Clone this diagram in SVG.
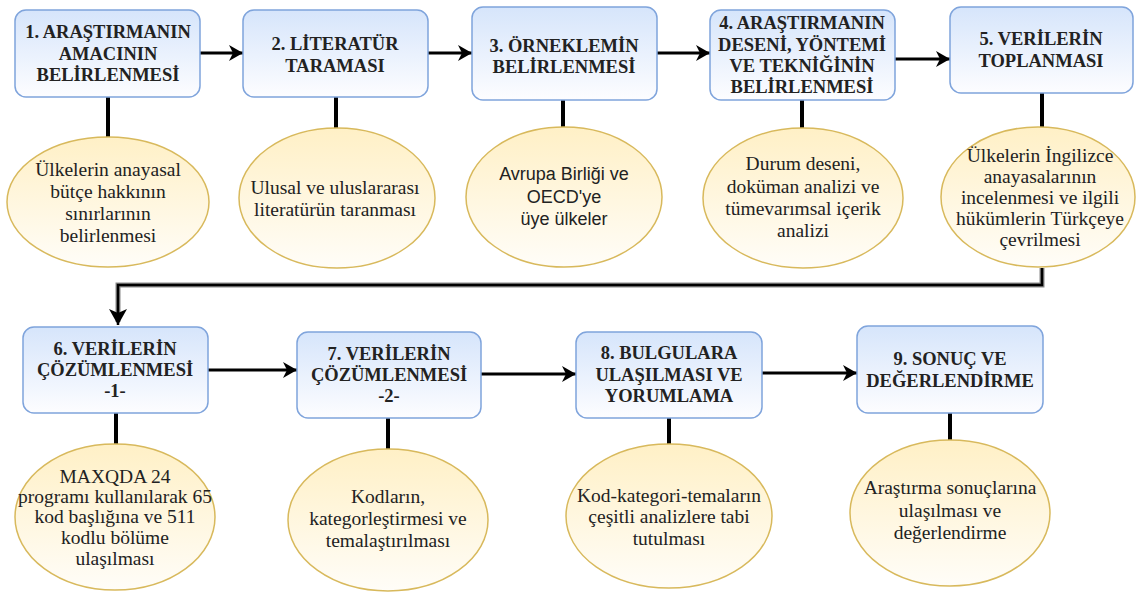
<svg xmlns="http://www.w3.org/2000/svg" width="1136" height="592" viewBox="0 0 1136 592">
<defs>
<linearGradient id="gBox" x1="0" y1="0" x2="0" y2="1"><stop offset="0" stop-color="#d6e5fb"/><stop offset="1" stop-color="#fdfdff"/></linearGradient>
<linearGradient id="gEll" x1="0" y1="0" x2="0" y2="1"><stop offset="0" stop-color="#fff0c6"/><stop offset="1" stop-color="#fffdf8"/></linearGradient>
<marker id="arr" markerUnits="userSpaceOnUse" markerWidth="16" markerHeight="18" refX="14" refY="8" orient="auto"><path d="M0,0 L14,8 L0,16 L4,8 Z" fill="#000"/></marker>
<marker id="arrBig" markerUnits="userSpaceOnUse" markerWidth="18" markerHeight="20" refX="16" refY="9" orient="auto"><path d="M0,0 L16,9 L0,18 L4,9 Z" fill="#000"/></marker>
<style>
.box{fill:url(#gBox);stroke:#7fa4dc;stroke-width:1.5}
.ell{fill:url(#gEll);stroke:#d8b95c;stroke-width:1.5}
.bt{font-weight:bold;font-size:18.5px;fill:#222;text-anchor:middle}
.et{font-size:19.5px;fill:#222;text-anchor:middle}
.st{font-size:18px;fill:#222;text-anchor:middle}
.ln{stroke:#000;stroke-width:3;fill:none}
.stem{stroke:#000;stroke-width:4;fill:none}
</style>
</defs>
<rect width="1136" height="592" fill="#fff"/>
<g id="connectors">
<line class="ln" x1="200" y1="53" x2="243" y2="53" marker-end="url(#arr)"/>
<line class="ln" x1="428" y1="53" x2="472" y2="53" marker-end="url(#arr)"/>
<line class="ln" x1="657" y1="53" x2="710" y2="53" marker-end="url(#arr)"/>
<line class="ln" x1="895" y1="59" x2="950" y2="59" marker-end="url(#arr)"/>
<line class="ln" x1="208" y1="370" x2="297" y2="370" marker-end="url(#arr)"/>
<line class="ln" x1="481" y1="374" x2="576" y2="374" marker-end="url(#arr)"/>
<line class="ln" x1="762" y1="373" x2="857" y2="373" marker-end="url(#arr)"/>
<path d="M1042,268 V285 H118 V322" fill="none" stroke="#8a8a8a" stroke-width="5"/>
<path d="M1042,268 V285 H118 V325" fill="none" stroke="#000" stroke-width="2.5" marker-end="url(#arrBig)"/>
<line class="stem" x1="108" y1="97" x2="108" y2="137"/>
<line class="stem" x1="336" y1="97" x2="336" y2="128"/>
<line class="stem" x1="563" y1="100" x2="563" y2="127"/>
<line class="stem" x1="802" y1="100" x2="802" y2="128"/>
<line class="stem" x1="1042" y1="93" x2="1042" y2="127"/>
<line class="stem" x1="116" y1="413" x2="116" y2="444"/>
<line class="stem" x1="388" y1="418" x2="388" y2="449"/>
<line class="stem" x1="669" y1="418" x2="669" y2="444"/>
<line class="stem" x1="950" y1="413" x2="950" y2="440"/>
</g>
<g id="n1"><rect class="box" x="15" y="10" width="185" height="87" rx="11"/>
<text class="bt" font-family="Liberation Serif"><tspan x="108" y="38">1. ARAŞTIRMANIN</tspan><tspan x="108" y="60">AMACININ</tspan><tspan x="108" y="81">BELİRLENMESİ</tspan></text></g>
<g id="n2"><rect class="box" x="243" y="10" width="185" height="87" rx="11"/>
<text class="bt" font-family="Liberation Serif"><tspan x="335" y="50">2. LİTERATÜR</tspan><tspan x="335" y="72">TARAMASI</tspan></text></g>
<g id="n3"><rect class="box" x="472" y="7" width="185" height="93" rx="11"/>
<text class="bt" font-family="Liberation Serif"><tspan x="564" y="52">3. ÖRNEKLEMİN</tspan><tspan x="564" y="73">BELİRLENMESİ</tspan></text></g>
<g id="n4"><rect class="box" x="710" y="10" width="185" height="90" rx="11"/>
<text class="bt" font-family="Liberation Serif"><tspan x="802" y="29">4. ARAŞTIRMANIN</tspan><tspan x="802" y="51">DESENİ, YÖNTEMİ</tspan><tspan x="802" y="72">VE TEKNİĞİNİN</tspan><tspan x="802" y="93">BELİRLENMESİ</tspan></text></g>
<g id="n5"><rect class="box" x="950" y="7" width="183" height="86" rx="11"/>
<text class="bt" font-family="Liberation Serif"><tspan x="1041" y="45">5. VERİLERİN</tspan><tspan x="1041" y="67">TOPLANMASI</tspan></text></g>
<g id="n6"><rect class="box" x="23" y="327" width="185" height="86" rx="11"/>
<text class="bt" font-family="Liberation Serif"><tspan x="115" y="355">6. VERİLERİN</tspan><tspan x="115" y="376">ÇÖZÜMLENMESİ</tspan><tspan x="115" y="397">-1-</tspan></text></g>
<g id="n7"><rect class="box" x="297" y="332" width="184" height="86" rx="11"/>
<text class="bt" font-family="Liberation Serif"><tspan x="389" y="360">7. VERİLERİN</tspan><tspan x="389" y="381">ÇÖZÜMLENMESİ</tspan><tspan x="389" y="402">-2-</tspan></text></g>
<g id="n8"><rect class="box" x="576" y="332" width="186" height="86" rx="11"/>
<text class="bt" font-family="Liberation Serif"><tspan x="669" y="359">8. BULGULARA</tspan><tspan x="669" y="381">ULAŞILMASI VE</tspan><tspan x="669" y="402">YORUMLAMA</tspan></text></g>
<g id="n9"><rect class="box" x="857" y="326" width="186" height="87" rx="11"/>
<text class="bt" font-family="Liberation Serif"><tspan x="950" y="365">9. SONUÇ VE</tspan><tspan x="950" y="387">DEĞERLENDİRME</tspan></text></g>
<g id="e1"><ellipse class="ell" cx="108" cy="202" rx="101" ry="65"/>
<text class="et" font-family="Liberation Serif"><tspan x="108" y="176">Ülkelerin anayasal</tspan><tspan x="108" y="198">bütçe hakkının</tspan><tspan x="108" y="220">sınırlarının</tspan><tspan x="108" y="242">belirlenmesi</tspan></text></g>
<g id="e2"><ellipse class="ell" cx="337" cy="198" rx="98" ry="70"/>
<text class="et" font-family="Liberation Serif"><tspan x="335" y="194">Ulusal ve uluslararası</tspan><tspan x="335" y="216">literatürün taranması</tspan></text></g>
<g id="e3"><ellipse class="ell" cx="564" cy="197" rx="98" ry="70"/>
<text class="st" font-family="Liberation Sans"><tspan x="564" y="180">Avrupa Birliği ve</tspan><tspan x="564" y="203">OECD'ye</tspan><tspan x="564" y="225">üye ülkeler</tspan></text></g>
<g id="e4"><ellipse class="ell" cx="803" cy="198" rx="100" ry="70"/>
<text class="et" font-family="Liberation Serif"><tspan x="803" y="170">Durum deseni,</tspan><tspan x="803" y="193">doküman analizi ve</tspan><tspan x="803" y="215">tümevarımsal içerik</tspan><tspan x="803" y="237">analizi</tspan></text></g>
<g id="e5"><ellipse class="ell" cx="1038" cy="197" rx="97" ry="70"/>
<text class="et" font-family="Liberation Serif"><tspan x="1040" y="162">Ülkelerin İngilizce</tspan><tspan x="1040" y="183">anayasalarının</tspan><tspan x="1040" y="204">incelenmesi ve ilgili</tspan><tspan x="1040" y="225">hükümlerin Türkçeye</tspan><tspan x="1040" y="246">çevrilmesi</tspan></text></g>
<g id="e6"><ellipse class="ell" cx="115" cy="517" rx="100" ry="73"/>
<text class="et" font-family="Liberation Serif"><tspan x="115" y="483">MAXQDA 24</tspan><tspan x="115" y="503">programı kullanılarak 65</tspan><tspan x="115" y="523">kod başlığına ve 511</tspan><tspan x="115" y="544">kodlu bölüme</tspan><tspan x="115" y="565">ulaşılması</tspan></text></g>
<g id="e7"><ellipse class="ell" cx="388" cy="520" rx="100" ry="71"/>
<text class="et" font-family="Liberation Serif"><tspan x="388" y="503">Kodların,</tspan><tspan x="388" y="525">kategorleştirmesi ve</tspan><tspan x="388" y="547">temalaştırılması</tspan></text></g>
<g id="e8"><ellipse class="ell" cx="669" cy="516" rx="103" ry="72"/>
<text class="et" font-family="Liberation Serif"><tspan x="669" y="502">Kod-kategori-temaların</tspan><tspan x="669" y="523">çeşitli analizlere tabi</tspan><tspan x="669" y="545">tutulması</tspan></text></g>
<g id="e9"><ellipse class="ell" cx="950" cy="513" rx="100" ry="73"/>
<text class="et" font-family="Liberation Serif"><tspan x="950" y="494">Araştırma sonuçlarına</tspan><tspan x="950" y="517">ulaşılması ve</tspan><tspan x="950" y="539">değerlendirme</tspan></text></g>
</svg>
